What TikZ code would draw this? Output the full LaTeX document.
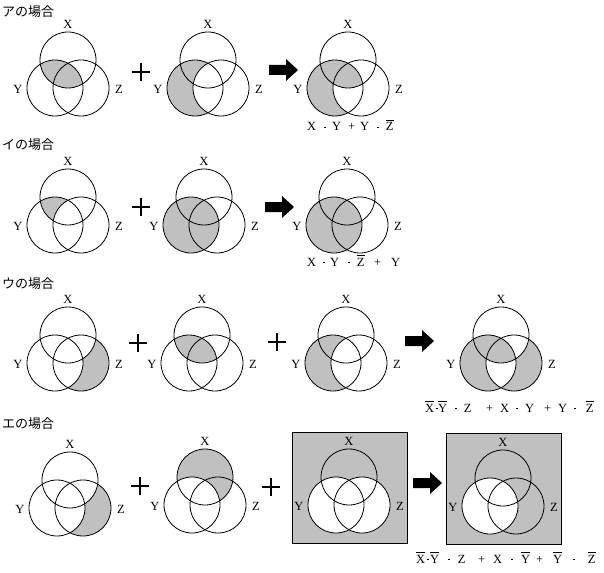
\documentclass[tikz,border=0pt]{standalone}
\usepackage{fontspec}
\setmainfont{Liberation Serif}
\newfontfamily\jpfont{Noto Sans CJK JP}
\definecolor{vgray}{HTML}{C0C0C0}
\tikzset{
 circ/.style={draw=black,line width=0.8pt},
 lbl/.style={font=\fontsize{12.5}{12.5}\selectfont,inner sep=0pt},
 ttl/.style={font=\jpfont\fontsize{13}{13}\selectfont,anchor=west,inner sep=0pt},
 plusbar/.style={line width=2.6pt},
 bigarrow/.style={fill=black},
 expr/.style={font=\fontsize{12.5}{12.5}\selectfont,inner sep=0pt,anchor=base west},
 boxst/.style={fill=vgray,draw=black,line width=0.8pt}
}
\def\cirX{(0,0) circle[radius=28pt]}
\def\cirY{(-13,28) circle[radius=28pt]}
\def\cirZ{(13,28) circle[radius=28pt]}
\newcommand\gfill[1]{\fill[vgray] #1;}
\newcommand\wfill[1]{\fill[white] #1;}
\newcommand\capfill[2]{\begin{scope}\clip #1; \fill[vgray] #2;\end{scope}}
\newcommand\venn[4]{\begin{scope}[shift={(#2,#3)}]#4
 \draw[circ] \cirX; \draw[circ] \cirY; \draw[circ] \cirZ;
 \node[lbl] (#1x) at (0,-36) {X};
 \node[lbl] (#1y) at (-50,29) {Y};
 \node[lbl] (#1z) at (51,29) {Z};
\end{scope}}
\newcommand\plussign[3]{\begin{scope}[shift={(#2,#3)}]
 \coordinate (#1) at (0,0);
 \draw[plusbar] (-9,0) -- (9,0) (0,-9) -- (0,9);\end{scope}}
\newcommand\bigarr[3]{\begin{scope}[shift={(#2,#3)}]
 \coordinate (#1) at (0,0);
 \fill[bigarrow] (0,-5) -- (17,-5) -- (17,-11) -- (29,0) -- (17,11) -- (17,5) -- (0,5) -- cycle;\end{scope}}
\newcommand\gl[2]{\rlap{\hspace{#1pt}\makebox[0pt]{#2}}}
\newcommand\ovl[1]{\setbox0\hbox{#1}\rlap{\rule[\dimexpr\ht0+1.8pt\relax]{\wd0}{0.6pt}}\box0}
\newcommand\mdot{\rule[2.6pt]{1.8pt}{1.8pt}}
\begin{document}
\begin{tikzpicture}[x=1pt,y=-1pt]
\useasboundingbox (0,0) rectangle (604,572);
% titles
\node[ttl] (t1) at (2,12) {アの場合};
\node[ttl] (t2) at (2,145) {イの場合};
\node[ttl] (t3) at (2,284) {ウの場合};
\node[ttl] (t4) at (2,424) {エの場合};
% row 1
\venn{a1}{68}{60}{\capfill{\cirX}{\cirY}}
\plussign{p11}{141}{72}
\venn{a2}{208}{60}{\gfill{\cirY}\wfill{\cirZ}}
\bigarr{r1}{269}{70}
\venn{a3}{348}{60}{\gfill{\cirY}\wfill{\cirZ}\capfill{\cirX}{\cirY}}
\node[expr] (e1) at (306,131) {\gl{5}{X}\gl{18}{\mdot}\gl{30}{Y}\gl{45}{+}\gl{58}{Y}\gl{71}{\mdot}\gl{83}{\ovl{Z}}\hspace{88pt}};
% row 2
\venn{b1}{68}{197}{\capfill{\cirX}{\cirY}\wfill{\cirZ}}
\plussign{p21}{141}{207}
\venn{b2}{204}{197}{\gfill{\cirY}}
\bigarr{r2}{265}{207}
\venn{b3}{347}{197}{\gfill{\cirY}}
\node[expr] (e2) at (307,266) {\gl{4}{X}\gl{16}{\mdot}\gl{27}{Y}\gl{41}{\mdot}\gl{53}{\ovl{Z}}\gl{70}{+}\gl{88}{Y}\hspace{93pt}};
% row 3
\venn{c1}{68}{335}{\gfill{\cirZ}\wfill{\cirX}\wfill{\cirY}}
\plussign{p31}{138}{343}
\venn{c2}{202}{335}{\capfill{\cirX}{\cirY}}
\plussign{p32}{277}{342}
\venn{c3}{346}{335}{\gfill{\cirY}\wfill{\cirZ}}
\bigarr{r3}{405}{341}
\venn{c4}{501}{335}{\gfill{\cirY}\wfill{\cirZ}
 \begin{scope}\clip \cirZ; \fill[vgray] \cirZ; \fill[white] \cirX; \fill[white] \cirY;\end{scope}
 \capfill{\cirX}{\cirY}}
\node[expr] (e3) at (425,412) {\gl{4}{\ovl{X}}\gl{11}{\mdot}\gl{17}{\ovl{Y}}\gl{30}{\mdot}\gl{42}{Z}\gl{64}{+}\gl{79}{X}\gl{91}{\mdot}\gl{104}{Y}\gl{122}{+}\gl{137}{Y}\gl{149}{\mdot}\gl{164}{\ovl{Z}}\hspace{168pt}};
% row 4
\venn{d1}{70}{480}{\gfill{\cirZ}\wfill{\cirX}\wfill{\cirY}}
\plussign{p41}{140}{486}
\venn{d2}{205}{477}{\gfill{\cirX}\wfill{\cirY}}
\plussign{p42}{271}{487}
\venn{d3}{349}{477}{\filldraw[boxst] (-57,-45) rectangle (58,66); \wfill{\cirY}\wfill{\cirZ}}
\bigarr{r4}{413}{483}
\venn{d4}{503}{478}{\filldraw[boxst] (-57,-45) rectangle (58,66); \wfill{\cirY}}
\node[expr] (e4) at (416,563) {\gl{4}{\ovl{X}}\gl{11}{\mdot}\gl{18}{\ovl{Y}}\gl{32}{\mdot}\gl{45}{Z}\gl{65}{+}\gl{81}{X}\gl{95}{\mdot}\gl{109}{\ovl{Y}}\gl{123}{+}\gl{141}{\ovl{Y}}\gl{157}{\mdot}\gl{175}{\ovl{Z}}\hspace{179pt}};
\end{tikzpicture}
\end{document}
